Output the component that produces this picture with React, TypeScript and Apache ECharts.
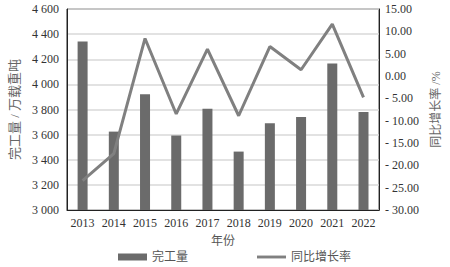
import React, { useEffect, useRef } from "react";
import * as echarts from "echarts";

const years = ["2013", "2014", "2015", "2016", "2017", "2018", "2019", "2020", "2021", "2022"];
const output = [4342, 3624, 3922, 3593, 3805, 3465, 3691, 3741, 4166, 3781];
const growth = [-23.4, -17.4, 8.4, -8.5, 6.0, -8.9, 6.6, 1.4, 11.6, -4.8];

const FONT = '"Liberation Serif", "Noto Sans CJK SC", serif';

export default function App() {
  const ref = useRef<HTMLDivElement>(null);
  useEffect(() => {
    if (!ref.current) return;
    const chart = echarts.init(ref.current, undefined, { renderer: "svg" });
    chart.setOption({
      animation: false,
      textStyle: { fontFamily: FONT },
      grid: {
        left: 64,
        right: 68,
        top: 9,
        bottom: 57,
        show: true,
        borderColor: "#222",
        borderWidth: 1,
        backgroundColor: "transparent",
      },
      legend: {
        left: 118,
        top: 251,
        padding: 0,
        itemWidth: 29,
        itemHeight: 7,
        itemGap: 69,
        textStyle: { fontFamily: FONT, fontSize: 12, color: "#555" },
        data: [
          { name: "完工量", icon: "rect" },
          { name: "同比增长率", icon: "path://M0,0H30V3H0Z" },
        ],
      },
      xAxis: {
        type: "category",
        data: years,
        name: "年份",
        nameLocation: "middle",
        nameGap: 25,
        nameTextStyle: { fontFamily: FONT, fontSize: 12, color: "#555" },
        axisLine: { show: true, onZero: false, lineStyle: { color: "#222", width: 1 } },
        axisTick: { show: false },
        axisLabel: { fontFamily: FONT, fontSize: 12, color: "#333", margin: 7 },
      },
      yAxis: [
        {
          type: "value",
          min: 3000,
          max: 4600,
          interval: 200,
          name: "完工量 / 万载重吨",
          nameLocation: "middle",
          nameGap: 46,
          nameTextStyle: { fontFamily: FONT, fontSize: 13, color: "#666" },
          axisLine: { show: true, lineStyle: { color: "#222", width: 1 } },
          axisTick: { show: false },
          splitLine: { show: true, lineStyle: { color: "#d9d9d9", width: 1.5 } },
          axisLabel: {
            fontFamily: FONT,
            fontSize: 12,
            color: "#333",
            margin: 8,
            formatter: (v: number) => {
              const s = String(v);
              return s.slice(0, s.length - 3) + " " + s.slice(-3);
            },
          },
        },
        {
          type: "value",
          min: -30,
          max: 15,
          interval: 5,
          name: "同比增长率 /%",
          nameLocation: "middle",
          nameGap: 50,
          nameRotate: 90,
          nameTextStyle: { fontFamily: FONT, fontSize: 12, color: "#666" },
          axisLine: { show: true, lineStyle: { color: "#222", width: 1 } },
          axisTick: { show: false },
          splitLine: { show: false },
          axisLabel: {
            fontFamily: FONT,
            fontSize: 12,
            color: "#333",
            margin: 6,
            formatter: (v: number) =>
              v < 0 ? "- " + Math.abs(v).toFixed(2) : v.toFixed(2),
          },
        },
      ],
      series: [
        {
          name: "完工量",
          type: "bar",
          data: output,
          barWidth: 10,
          itemStyle: { color: "#6b6b6b" },
        },
        {
          name: "同比增长率",
          type: "line",
          yAxisIndex: 1,
          data: growth,
          showSymbol: false,
          symbol: "none",
          lineStyle: { color: "#808080", width: 3 },
          itemStyle: { color: "#808080" },
        },
      ],
    });
    return () => chart.dispose();
  }, []);
  return (
    <div
      ref={ref}
      style={{ position: "absolute", left: 0, top: 0, width: 450, height: 267 }}
    />
  );
}
